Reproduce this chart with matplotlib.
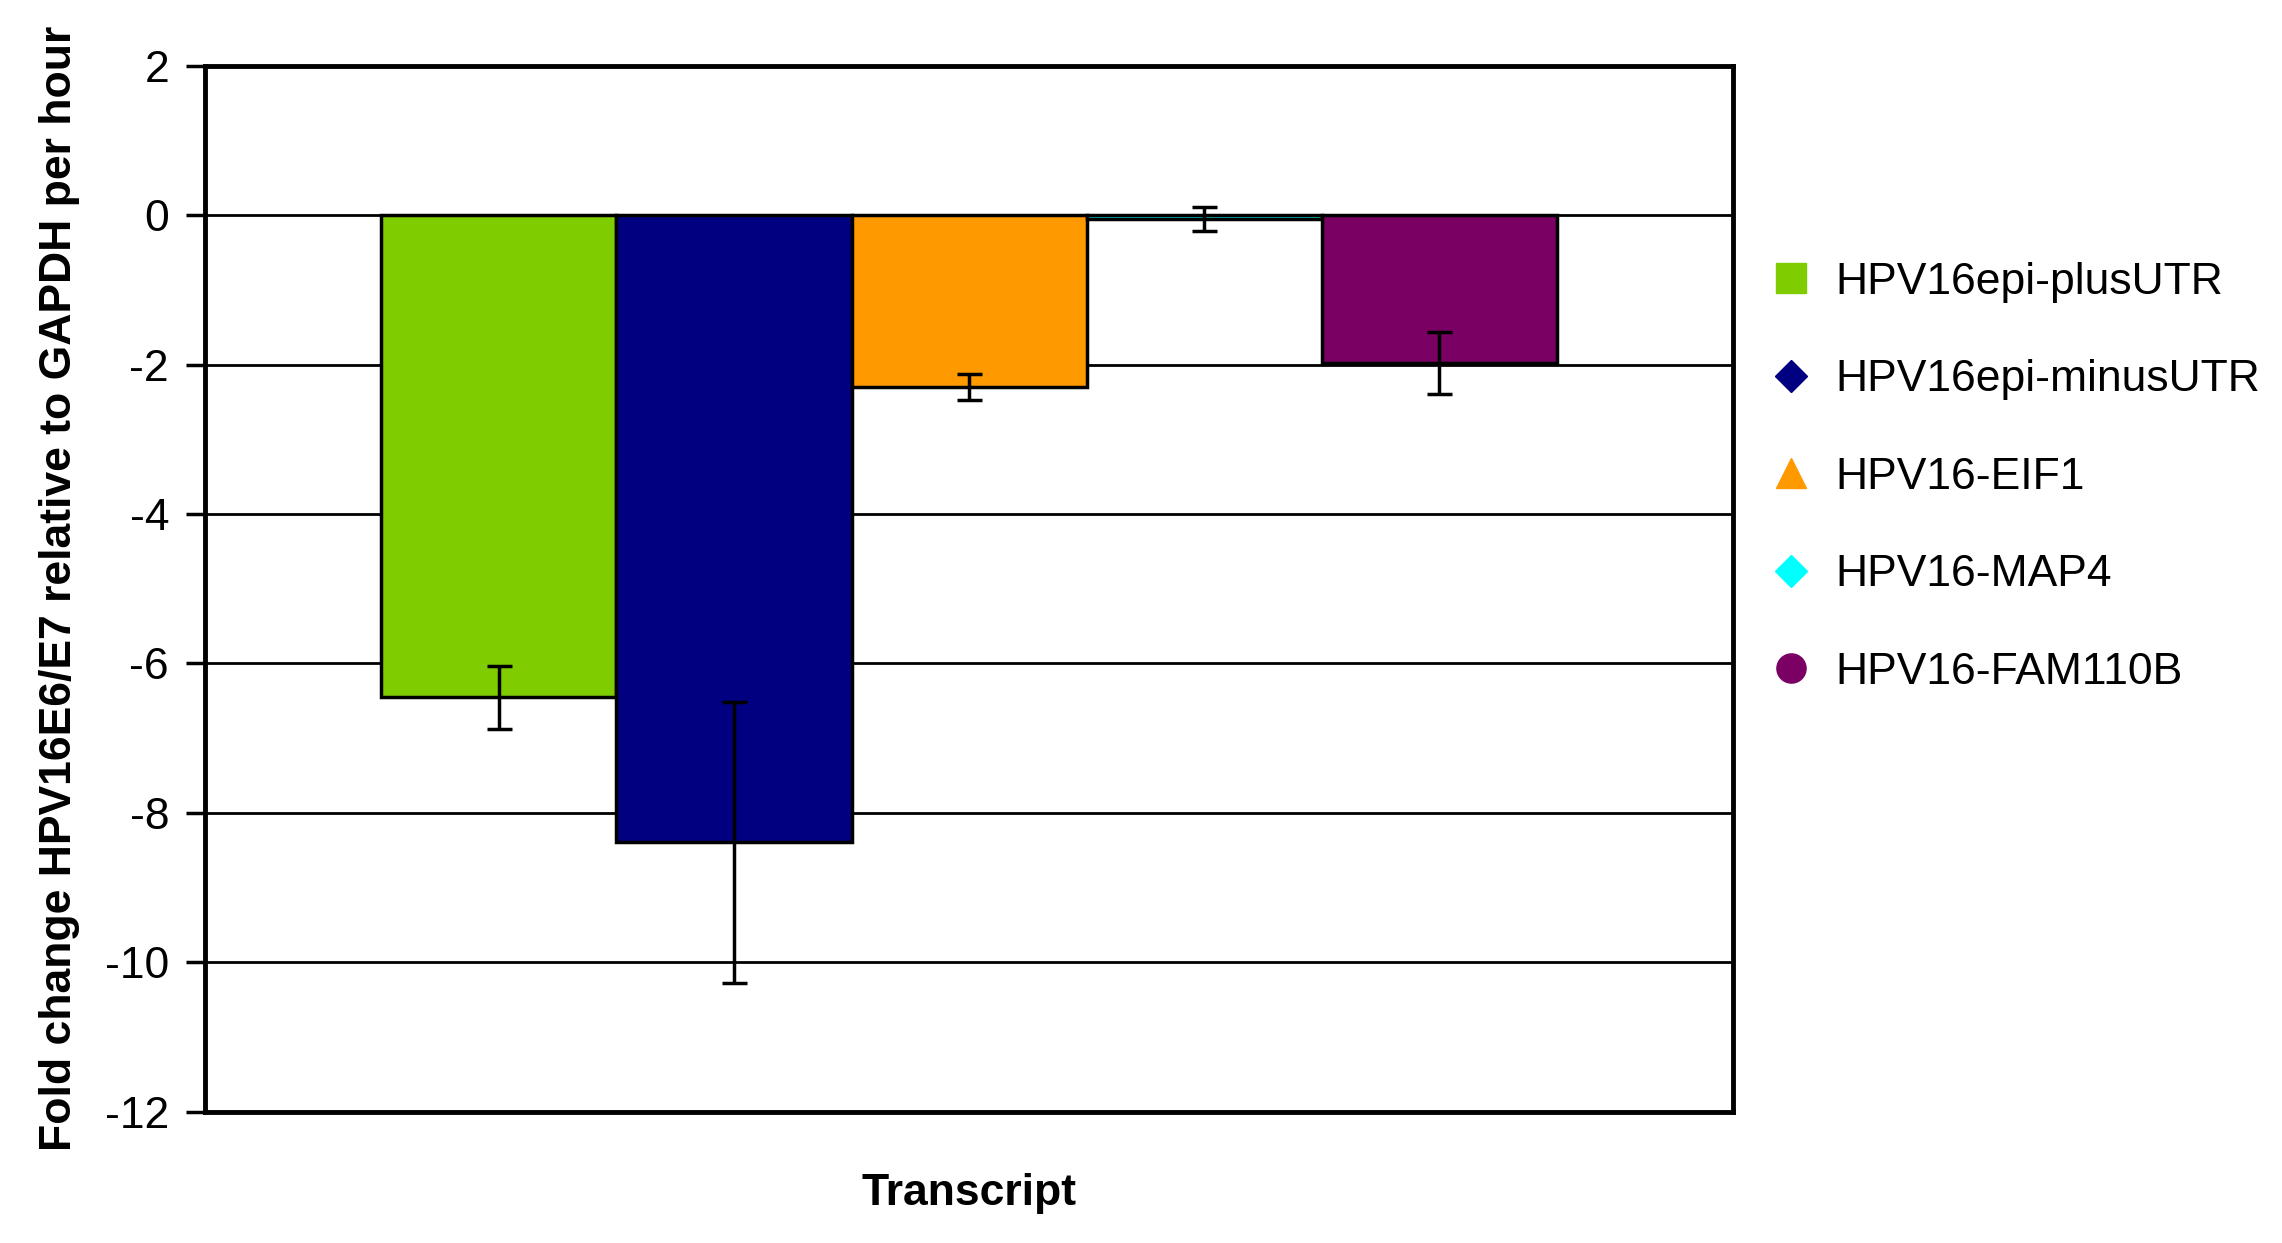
import matplotlib.pyplot as plt
from matplotlib.lines import Line2D

plt.rcParams['font.family'] = ['Liberation Sans', 'DejaVu Sans']

# transcripts and values
labels = ["HPV16epi-plusUTR", "HPV16epi-minusUTR", "HPV16-EIF1", "HPV16-MAP4", "HPV16-FAM110B"]
values = [-6.45, -8.39, -2.30, -0.05, -1.98]
errors = [0.42, 1.88, 0.17, 0.16, 0.42]
colors = ['#7fcc00', '#000080', '#ff9900', '#00ffff', '#7a0064']
markers = ['s', 'D', '^', 'D', 'o']
yticks = [2, 0, -2, -4, -6, -8, -10, -12]

fig = plt.figure(figsize=(22.82, 12.43), dpi=100)
ax = fig.add_axes([0.0899, 0.1054, 0.6695, 0.8419])

x = list(range(len(values)))
ax.bar(x, values, width=1.0, color=colors, edgecolor='black', linewidth=2.5, zorder=3)
ax.errorbar(x, values, yerr=errors, fmt='none', ecolor='black', elinewidth=2.5,
            capsize=9, capthick=2.5, zorder=4)

ax.set_xlim(-1.25, 5.25)
ax.set_ylim(-12, 2)
ax.set_yticks(yticks)
ax.set_yticklabels([str(t) for t in yticks])
ax.yaxis.grid(True, color='black', linewidth=2)
ax.set_axisbelow(True)
ax.set_xticks([])
ax.tick_params(axis='y', direction='out', length=14, width=2.5, labelsize=32, pad=12)
for s in ax.spines.values():
    s.set_linewidth(3.5)

ax.set_xlabel("Transcript", fontsize=32, fontweight='bold', labelpad=44)
ax.set_ylabel("Fold change HPV16E6/E7 relative to GAPDH per hour", fontsize=32,
              fontweight='bold', labelpad=18)

handles = [Line2D([], [], linestyle='none', marker=m, color=c, markersize=21 if m != 'D' else 16)
           for m, c in zip(markers, colors)]
fig.legend(handles, labels, loc='center left', bbox_to_anchor=(0.7574, 0.616), frameon=False,
           fontsize=32, labelspacing=1.27, handletextpad=0.5, handlelength=1.0)

fig.savefig("out.png", dpi=100)
